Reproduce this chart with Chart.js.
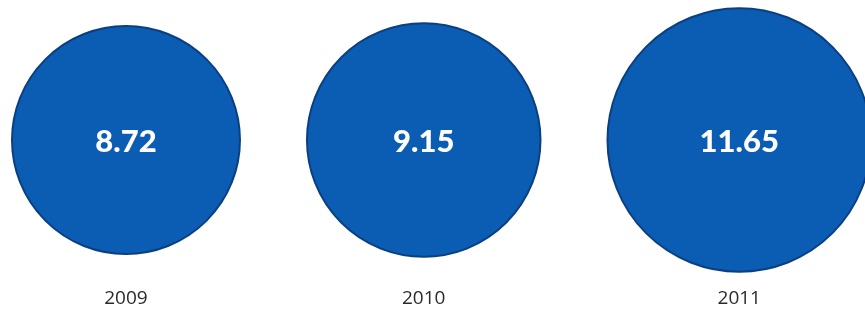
<!DOCTYPE html>
<html>
<head>
<meta charset="utf-8">
<script src="https://cdn.jsdelivr.net/npm/chart.js@4"></script>
<style>
  html, body { margin: 0; padding: 0; background: #ffffff; }
  #wrap { width: 865px; height: 321px; position: relative; }
</style>
</head>
<body>
<div id="wrap"><canvas id="c"></canvas></div>
<script>
// Yearly figures shown as proportional circles
const years = ['2009', '2010', '2011'];
const values = [8.72, 9.15, 11.65];

// Circle area is proportional to the value, so radius grows with sqrt(value)
const RADIUS_PER_ROOT = 38.6;
const LEFT_MARGIN = 12;
const GAP = 67;

const radii = values.map(v => RADIUS_PER_ROOT * Math.sqrt(v));
const centers = [];
radii.forEach((r, i) => {
  const start = i === 0 ? LEFT_MARGIN : centers[i - 1] + radii[i - 1] + GAP;
  centers.push(start + r);
});

const points = values.map((v, i) => ({ x: centers[i], y: 0, r: radii[i] }));

// White value text centred in each bubble
const valueLabels = {
  id: 'valueLabels',
  afterDatasetsDraw(chart) {
    const ctx = chart.ctx;
    const meta = chart.getDatasetMeta(0);
    ctx.save();
    ctx.fillStyle = '#ffffff';
    ctx.font = '900 31px Lato';
    ctx.textAlign = 'center';
    ctx.textBaseline = 'middle';
    meta.data.forEach((el, i) => {
      ctx.fillText(values[i].toFixed(2), el.x, el.y + 2);
    });
    ctx.restore();
  }
};

new Chart(document.getElementById('c'), {
  type: 'bubble',
  data: {
    datasets: [{
      data: points,
      backgroundColor: '#0b5db3',
      borderColor: '#0a3f82',
      borderWidth: 2,
      clip: false
    }]
  },
  options: {
    responsive: true,
    maintainAspectRatio: false,
    animation: false,
    events: [],
    layout: { padding: 0, autoPadding: false },
    plugins: { legend: { display: false }, tooltip: { enabled: false } },
    scales: {
      x: {
        type: 'linear',
        min: 0,
        max: 865,
        grid: { display: false, drawTicks: false },
        border: { display: false },
        afterBuildTicks: axis => { axis.ticks = centers.map(v => ({ value: v })); },
        afterFit: axis => { axis.height = 41; },
        ticks: {
          autoSkip: false,
          maxRotation: 0,
          padding: 7,
          color: '#2a2a2a',
          font: { family: 'Open Sans', size: 19 },
          callback: (v, i) => years[i]
        }
      },
      y: { display: false, min: -1, max: 1 }
    }
  },
  plugins: [valueLabels]
});
</script>
</body>
</html>
